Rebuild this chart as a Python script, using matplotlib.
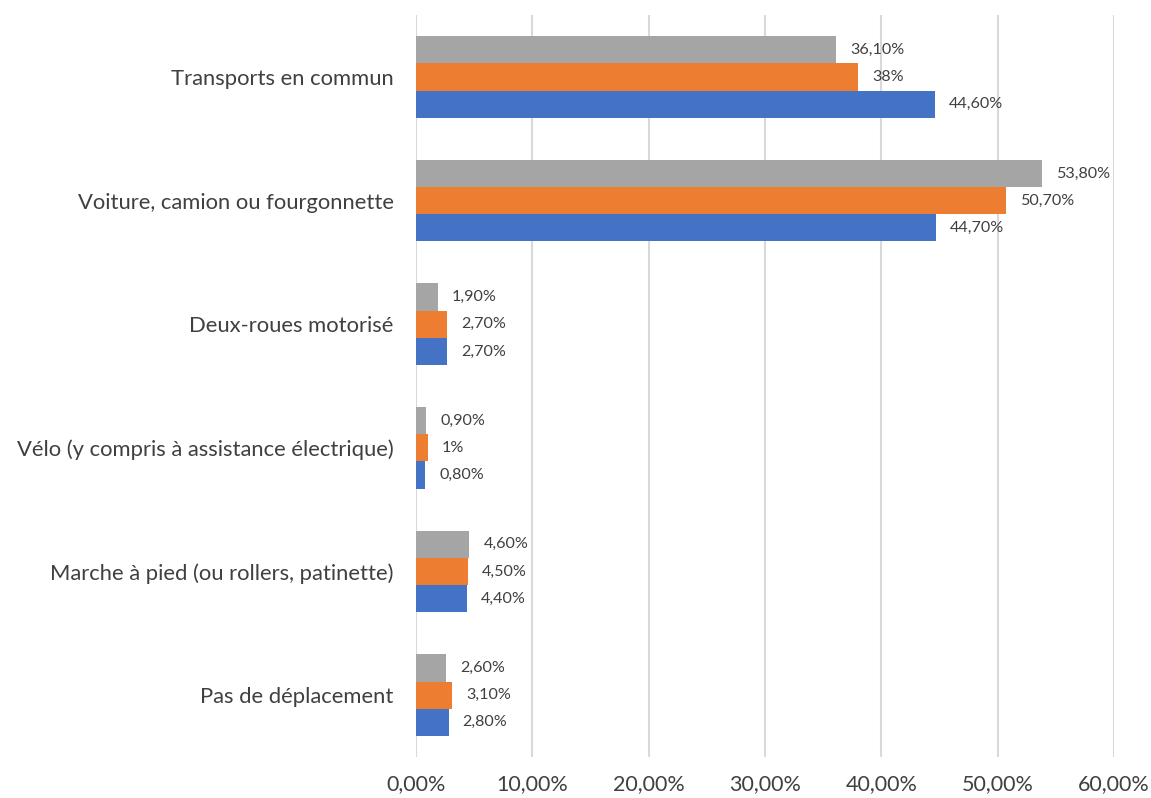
import matplotlib.pyplot as plt
import numpy as np

categories = [
    "Transports en commun",
    "Voiture, camion ou fourgonnette",
    "Deux-roues motorisé",
    "Vélo (y compris à assistance électrique)",
    "Marche à pied (ou rollers, patinette)",
    "Pas de déplacement",
]
# three series per category, drawn bottom (blue) to top (grey)
blue = [44.6, 44.7, 2.7, 0.8, 4.4, 2.8]
orange = [38.0, 50.7, 2.7, 1.0, 4.5, 3.1]
grey = [36.1, 53.8, 1.9, 0.9, 4.6, 2.6]

blue_labels = ["44,60%", "44,70%", "2,70%", "0,80%", "4,40%", "2,80%"]
orange_labels = ["38%", "50,70%", "2,70%", "1%", "4,50%", "3,10%"]
grey_labels = ["36,10%", "53,80%", "1,90%", "0,90%", "4,60%", "2,60%"]

xticks = [0, 10, 20, 30, 40, 50, 60]
xtick_labels = ["0,00%", "10,00%", "20,00%", "30,00%", "40,00%", "50,00%", "60,00%"]

plt.rcParams["font.family"] = ["Lato", "DejaVu Sans"]

fig = plt.figure(figsize=(11.51, 7.98), dpi=100)
ax = fig.add_axes([0.3614, 0.0514, 0.6066, 0.9296])

y = np.arange(len(categories))
h = 0.22
series = [
    (blue, blue_labels, "#4472C4", h),
    (orange, orange_labels, "#ED7D31", 0),
    (grey, grey_labels, "#A5A5A5", -h),
]
for vals, labs, col, off in series:
    bars = ax.barh(y + off, vals, height=h, color=col, zorder=3)
    ax.bar_label(bars, labels=labs, padding=10, fontsize=11.6, color="#404040")

ax.set_ylim(len(categories) - 0.5, -0.5)
ax.set_xlim(0, 60)
ax.set_yticks(y)
ax.set_yticklabels(categories, fontsize=15.8, color="#404040")
ax.set_xticks(xticks)
ax.set_xticklabels(xtick_labels, fontsize=15.5, color="#404040")
ax.tick_params(length=0)
ax.tick_params(axis="y", pad=16)
ax.tick_params(axis="x", pad=12)
ax.grid(axis="x", color="#D9D9D9", linewidth=1.5, zorder=0)
for s in ax.spines.values():
    s.set_visible(False)

fig.savefig("out.png")
